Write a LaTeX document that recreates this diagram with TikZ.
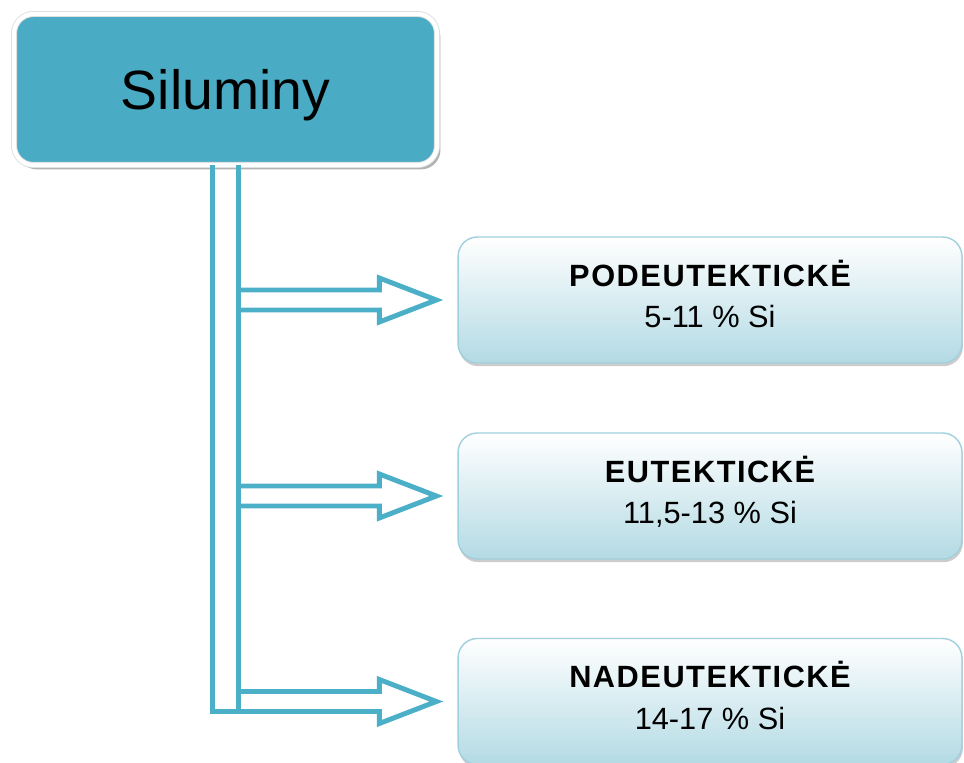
\documentclass[tikz,border=0pt]{standalone}
\usepackage{fontspec}
\setmainfont{Liberation Sans}
\usetikzlibrary{positioning,calc,shadows}
\definecolor{tealfill}{HTML}{4AABC5}
\definecolor{pipeblue}{HTML}{4BAFC8}
\definecolor{boxedge}{HTML}{A0D0DD}
\definecolor{boxbottom}{HTML}{B3DAE4}
\definecolor{rimgray}{HTML}{DADDDE}
\newcommand{\grphead}[1]{{\bfseries\addfontfeatures{LetterSpace=5}#1}}
\newcommand{\lowstrut}{\rule[-7pt]{0pt}{0pt}}
\tikzset{
  % Heading box
  head/.style={draw=rimgray,line width=0.5pt,double=white,double distance=2.4pt,
               fill=tealfill,rounded corners=11pt,
               minimum width=8.46cm,minimum height=3.02cm,
               font=\fontsize{31.5}{36}\selectfont,
               drop shadow={shadow xshift=2pt,shadow yshift=-2.5pt,fill=black!50,opacity=.6}},
  % Class boxes
  grp/.style={draw=boxedge,thick,rounded corners=11pt,top color=white,bottom color=boxbottom,
              minimum width=10.08cm,minimum height=2.52cm,align=center,
              font=\fontsize{17.5}{23.5}\selectfont,
              drop shadow={shadow xshift=0.5pt,shadow yshift=-1.8pt,fill=black!40,opacity=.5}},
  % Hollow pipe and arrows
  pipe/.style={draw=pipeblue,line width=2.8pt,line join=miter}
}

\begin{document}
\begin{tikzpicture}[x=0.02cm,y=-0.02cm]
  \useasboundingbox (0,0) rectangle (964,763);

  % --- Nodes ---
  \node[head] (sil) at (225.5,89.5) {\rule{0pt}{29pt}Siluminy};

  \node[grp] (pod) at (710,300)   {\grphead{PODEUTEKTICKĖ}\\5-11 \% Si\lowstrut};
  \node[grp] (eut) at (710,496)   {\grphead{EUTEKTICKĖ}\\11,5-13 \% Si\lowstrut};
  \node[grp] (nad) at (710,701.5) {\grphead{NADEUTEKTICKĖ}\\14-17 \% Si\lowstrut};

  % --- Trunk ---
  \coordinate (tl) at ($(sil.south)+(-13,0)$);
  \coordinate (tr) at ($(sil.south)+(13,0)$);
  \coordinate (bl) at (tl |- nad.west);
  \coordinate (br) at (tr |- nad.west);
  \draw[pipe] (tl) -- ($(bl)+(0,10)$) -- ($(br)+(0,10)$);
  \draw[pipe] (tr) -- ($(br)+(0,10)$);

  % --- Hollow arrows to the classes ---
  \foreach \b in {pod,eut,nad}{
    \coordinate (s) at (tr |- \b.west);
    \coordinate (t) at ($(\b.west)+(-21,0)$);
    \draw[pipe] ($(s)+(0,-10)$) -- ($(t)+(-57,-10)$) -- ($(t)+(-57,-22)$) -- (t)
          -- ($(t)+(-57,22)$) -- ($(t)+(-57,10)$) -- ($(s)+(0,10)$);
  }
\end{tikzpicture}
\end{document}
